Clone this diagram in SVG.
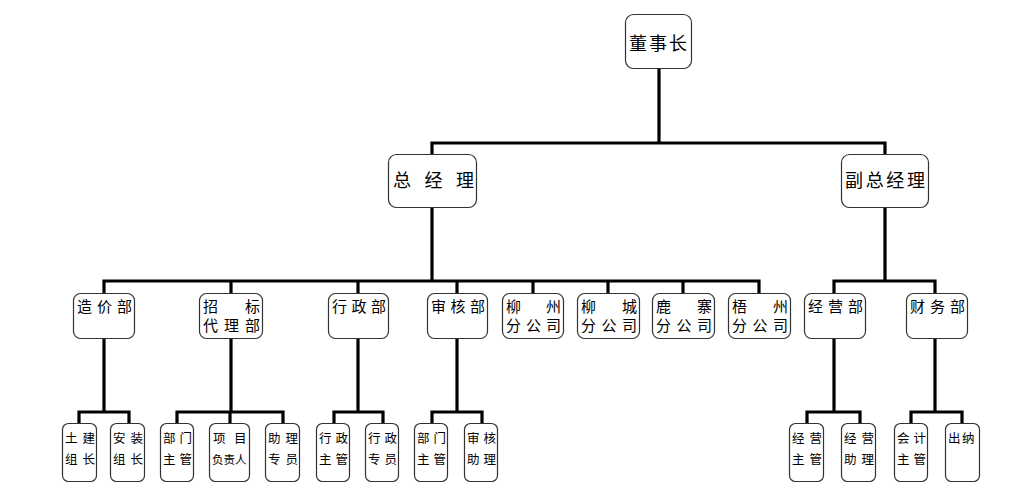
<svg xmlns="http://www.w3.org/2000/svg" width="1028" height="495" viewBox="0 0 1028 495">
<style>
.box{fill:#fff;stroke:#333;stroke-width:1.2}
.ln{fill:none;stroke:#000;stroke-width:3.2;stroke-linejoin:miter}
text{font-family:"Noto Sans CJK SC","Noto Sans",sans-serif;fill:#000}
.t1{font-size:18px}
.t2{font-size:15px}
.t3{font-size:12.5px}
.t4{font-size:11.5px}
</style>
<rect width="1028" height="495" fill="#fff"/>
<g id="connectors">
<path class="ln" d="M659,68V143M432,154V143H885V154"/>
<path class="ln" d="M432,207V281M104,293V281H759V293M231,281V293M358,281V293M457,281V293M533,281V293M608,281V293M683,281V293"/>
<path class="ln" d="M885,207V281M834,293V281H935V293"/>
<path class="ln" d="M104,338V412M79,423V412H129V423"/>
<path class="ln" d="M231,338V412M177,423V412H283V423M230,412V423"/>
<path class="ln" d="M358,338V412M334,423V412H383V423"/>
<path class="ln" d="M457,338V412M432,423V412H482V423"/>
<path class="ln" d="M834,338V412M807,423V412H860V423"/>
<path class="ln" d="M935,338V412M911,423V412H962V423"/>
</g>
<g id="n-dsz"><rect class="box" x="625.500" y="14.500" width="66" height="54" rx="8"/><text class="t1" x="629 649 669" y="50">董事长</text></g>
<g id="n-zjl"><rect class="box" x="388.500" y="154.500" width="88" height="53" rx="8"/><text class="t1" x="393 424.500 456" y="187">总经理</text></g>
<g id="n-fzjl"><rect class="box" x="841.500" y="154.500" width="87" height="53" rx="8"/><text class="t1" x="845 865.700 886.300 907" y="187">副总经理</text></g>

<g id="n-zjb"><rect class="box" x="73.500" y="293.500" width="61" height="45" rx="7"/><text class="t2" x="77 97 117" y="311.500">造价部</text></g>
<g id="n-zbdlb"><rect class="box" x="199.500" y="293.500" width="63" height="45" rx="7"/><text class="t2" x="203 245" y="311.500">招标</text><text class="t2" x="203 224 245" y="330.500">代理部</text></g>
<g id="n-xzb"><rect class="box" x="328.500" y="293.500" width="60" height="45" rx="7"/><text class="t2" x="332 351.500 371" y="311.500">行政部</text></g>
<g id="n-shb"><rect class="box" x="427.500" y="293.500" width="60" height="45" rx="7"/><text class="t2" x="431 450.500 470" y="311.500">审核部</text></g>
<g id="n-lz"><rect class="box" x="502.500" y="293.500" width="61" height="45" rx="7"/><text class="t2" x="506 546" y="311.500">柳州</text><text class="t2" x="506 526 546" y="330.500">分公司</text></g>
<g id="n-lc"><rect class="box" x="577.500" y="293.500" width="62" height="45" rx="7"/><text class="t2" x="581 622" y="311.500">柳城</text><text class="t2" x="581 601.500 622" y="330.500">分公司</text></g>
<g id="n-lzh"><rect class="box" x="652.500" y="293.500" width="62" height="45" rx="7"/><text class="t2" x="656 697" y="311.500">鹿寨</text><text class="t2" x="656 676.500 697" y="330.500">分公司</text></g>
<g id="n-wz"><rect class="box" x="728.500" y="293.500" width="62" height="45" rx="7"/><text class="t2" x="732 773" y="311.500">梧州</text><text class="t2" x="732 752.500 773" y="330.500">分公司</text></g>
<g id="n-jyb"><rect class="box" x="804.500" y="293.500" width="61" height="45" rx="7"/><text class="t2" x="808 828 848" y="311.500">经营部</text></g>
<g id="n-cwb"><rect class="box" x="906.500" y="293.500" width="61" height="45" rx="7"/><text class="t2" x="910 930 950" y="311.500">财务部</text></g>

<g id="n-tjzz"><rect class="box" x="62.500" y="423.500" width="34" height="58" rx="6"/><text class="t3" x="65 82.500" y="443">土建</text><text class="t3" x="65 82.500" y="464">组长</text></g>
<g id="n-azzz"><rect class="box" x="110.500" y="423.500" width="34" height="58" rx="6"/><text class="t3" x="113 130.500" y="443">安装</text><text class="t3" x="113 130.500" y="464">组长</text></g>
<g id="n-bmzg1"><rect class="box" x="160.500" y="423.500" width="33" height="58" rx="6"/><text class="t3" x="163 179.500" y="443">部门</text><text class="t3" x="163 179.500" y="464">主管</text></g>
<g id="n-xmfzr"><rect class="box" x="209.500" y="423.500" width="40" height="58" rx="6"/><text class="t3" x="213 234" y="443">项目</text><text class="t4" x="212 223.500 235" y="464">负责人</text></g>
<g id="n-zlzy"><rect class="box" x="265.500" y="423.500" width="34" height="58" rx="6"/><text class="t3" x="268 285.500" y="443">助理</text><text class="t3" x="268 285.500" y="464">专员</text></g>
<g id="n-xzzg"><rect class="box" x="316.500" y="423.500" width="33" height="58" rx="6"/><text class="t3" x="319 335.500" y="443">行政</text><text class="t3" x="319 335.500" y="464">主管</text></g>
<g id="n-xzzy"><rect class="box" x="365.500" y="423.500" width="33" height="58" rx="6"/><text class="t3" x="368 384.500" y="443">行政</text><text class="t3" x="368 384.500" y="464">专员</text></g>
<g id="n-bmzg2"><rect class="box" x="414.500" y="423.500" width="33" height="58" rx="6"/><text class="t3" x="417 433.500" y="443">部门</text><text class="t3" x="417 433.500" y="464">主管</text></g>
<g id="n-shzl"><rect class="box" x="464.500" y="423.500" width="33" height="58" rx="6"/><text class="t3" x="467 483.500" y="443">审核</text><text class="t3" x="467 483.500" y="464">助理</text></g>
<g id="n-jyzg"><rect class="box" x="789.500" y="423.500" width="34" height="58" rx="6"/><text class="t3" x="792 809.500" y="443">经营</text><text class="t3" x="792 809.500" y="464">主管</text></g>
<g id="n-jyzl"><rect class="box" x="841.500" y="423.500" width="34" height="58" rx="6"/><text class="t3" x="844 861.500" y="443">经营</text><text class="t3" x="844 861.500" y="464">助理</text></g>
<g id="n-kjzg"><rect class="box" x="894.500" y="423.500" width="33" height="58" rx="6"/><text class="t3" x="897 913.500" y="443">会计</text><text class="t3" x="897 913.500" y="464">主管</text></g>
<g id="n-cn"><rect class="box" x="945.500" y="423.500" width="34" height="58" rx="6"/><text class="t3" x="948 962" y="443">出纳</text></g>
</svg>
